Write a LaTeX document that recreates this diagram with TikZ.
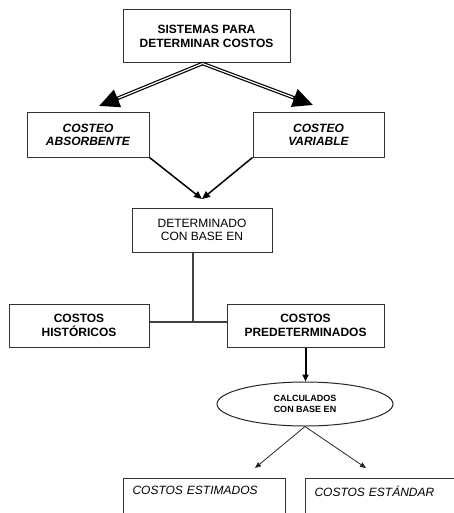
\documentclass[tikz,border=0pt]{standalone}
\usepackage{fontspec}
\setmainfont{Liberation Sans}
\usetikzlibrary{arrows.meta,shapes,positioning,calc}

\begin{document}
\begin{tikzpicture}[x=1pt, y=-1pt,
    box/.style = {shape=rectangle, draw=black!80, line width=1pt,
      align=center, inner sep=2pt,
      font=\fontsize{12}{13.5}\selectfont\bfseries},
    boxit/.style = {box, font=\fontsize{12}{13.5}\selectfont\bfseries\itshape},
    plainbox/.style = {box, font=\fontsize{12}{13.5}\selectfont},
    leafbox/.style = {shape=rectangle, draw=black!80, line width=1pt,
      anchor=north west, align=left, inner xsep=9pt, inner ysep=8pt,
      text depth=30pt, font=\fontsize{12}{13.5}\selectfont\itshape},
    calcell/.style = {shape=ellipse, draw=black!85, line width=1pt,
      align=center, inner sep=0pt,
      font=\fontsize{9}{10.5}\selectfont\bfseries},
    dblarrow/.style = {-{Triangle[length=20pt,width=18pt]}, line width=3.6pt,
      postaction={draw=white, line width=1.2pt, -, shorten >=21pt}},
    arr/.style = {-{Triangle[length=8pt,width=7pt]}, line width=1.5pt},
    thickarr/.style = {-{Triangle[length=7pt,width=6pt]}, line width=2pt},
    thinarr/.style = {-{Triangle[length=6pt,width=5pt]}, line width=0.8pt, black!85},
    link/.style = {draw=black!75, line width=1.2pt}]

  \useasboundingbox (0,0) rectangle (454,513);
  \clip (0,0) rectangle (454,513);

  \node [box, minimum width=167pt, minimum height=53pt] (sist) at (206.5,36.5)
    {SISTEMAS PARA\\DETERMINAR COSTOS};
  \node [boxit, minimum width=122pt, minimum height=44pt] (abs) at (88,135)
    {COSTEO\\ABSORBENTE};
  \node [boxit, minimum width=131pt, minimum height=44pt] (var) at (318.5,135)
    {COSTEO\\VARIABLE};
  \node [plainbox, minimum width=140pt, minimum height=44pt] (det) at (202,230)
    {DETERMINADO\\CON BASE EN};
  \node [box, minimum width=140pt, minimum height=43pt] (hist) at (79,325.5)
    {COSTOS\\HISTÓRICOS};
  \node [box, minimum width=157pt, minimum height=43pt] (pred) at (305.5,325.5)
    {COSTOS\\PREDETERMINADOS};
  \node [calcell, minimum width=176pt, minimum height=44pt] (calc) at (305,404)
    {CALCULADOS\\CON BASE EN};
  \node [leafbox, text width=144pt] (est) at (123,478) {COSTOS ESTIMADOS};
  \node [leafbox, text width=138pt] (std) at (305,478) {COSTOS ESTÁNDAR};

  \coordinate (tipL) at (99,106);
  \coordinate (tipR) at (313,105);
  \coordinate (meet) at (202,199);
  \coordinate (junc) at (193,322);
  \coordinate (tipE) at (255,468);
  \coordinate (tipS) at (366,468);

  \draw [dblarrow] ([xshift=-4pt]sist.south) -- (tipL);
  \draw [dblarrow] ([xshift=-4pt]sist.south) -- (tipR);
  \draw [arr] (abs.south east) -- (meet);
  \draw [arr] (var.south west) -- (meet);
  \draw [link] (det.south -| junc) -- (junc);
  \draw [link] (hist.east |- junc) -- (pred.west |- junc);
  \draw [thickarr] (pred.south) -- (pred.south |- calc.north);
  \draw [thinarr] (calc.south) -- (tipE);
  \draw [thinarr] (calc.south) -- (tipS);
\end{tikzpicture}
\end{document}
